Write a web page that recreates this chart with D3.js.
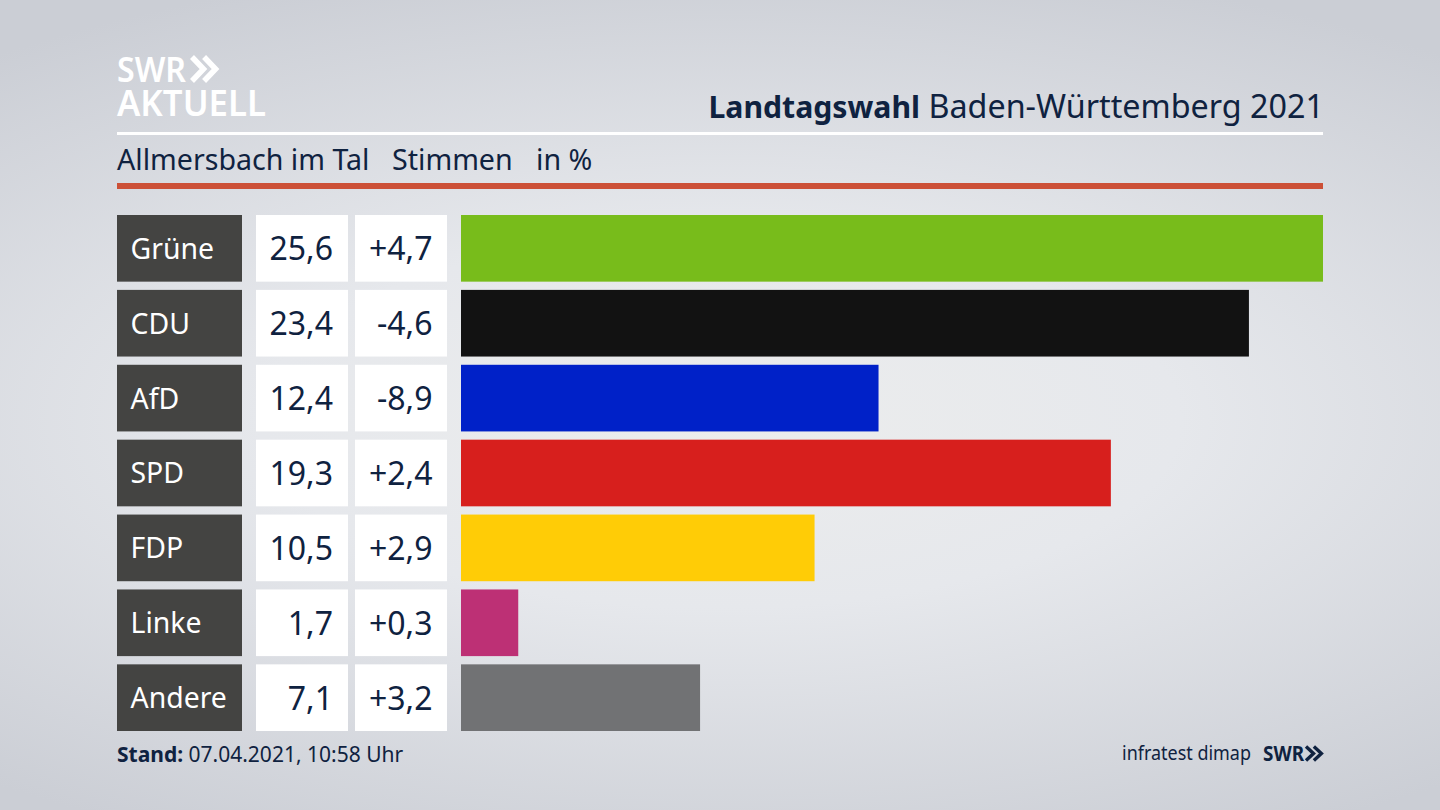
<!DOCTYPE html>
<html>
<head>
<meta charset="utf-8">
<script src="https://cdn.jsdelivr.net/npm/d3@7"></script>
<style>
html,body{margin:0;padding:0;background:#d5d7dd;}
svg{display:block;}
text{font-family:"Noto Sans",sans-serif;}
</style>
</head>
<body>
<svg width="1440" height="810"></svg>
<script>
const parties = ["Grüne","CDU","AfD","SPD","FDP","Linke","Andere"];
const shares = [25.6,23.4,12.4,19.3,10.5,1.7,7.1];
const changes = ["+4,7","-4,6","-8,9","+2,4","+2,9","+0,3","+3,2"];
const partyColors = ["#78bc1b","#121212","#0021c8","#d71f1d","#ffcc06","#bd3075","#717274"];

const svg = d3.select("svg");
const navy = "#0f2240";

// background
const grad = svg.append("defs").append("radialGradient")
  .attr("id","bg").attr("gradientUnits","userSpaceOnUse")
  .attr("cx",0).attr("cy",0).attr("r",1)
  .attr("gradientTransform","translate(720,420) scale(1150,470)");
grad.append("stop").attr("offset","0%").attr("stop-color","#eceded");
grad.append("stop").attr("offset","40%").attr("stop-color","#e6e8ec");
grad.append("stop").attr("offset","100%").attr("stop-color","#cbced5");
svg.append("rect").attr("width",1440).attr("height",810).attr("fill","url(#bg)");

const y = d3.scaleBand().domain(parties).range([215,731]).paddingInner(0.11);
const x = d3.scaleLinear().domain([0,25.6]).range([461,1323]);

// chevrons of the logo
function chevrons(g, cx, cy, h, w, sw, color){
  [0, w*1.05].forEach(dx => {
    g.append("path")
      .attr("d",`M${cx+dx} ${cy-h/2} L${cx+dx+w} ${cy} L${cx+dx} ${cy+h/2}`)
      .attr("fill","none").attr("stroke",color).attr("stroke-width",sw);
  });
}

// logo top left
const logo = svg.append("g");
logo.append("text").attr("x",117).attr("y",82).attr("font-size",33.5).attr("font-weight",600)
  .attr("fill","#fff").attr("textLength",69).attr("lengthAdjust","spacingAndGlyphs").text("SWR");
chevrons(logo,192,69,24,11.5,5.5,"#fff");
logo.append("text").attr("x",117).attr("y",116).attr("font-size",36).attr("font-weight",600)
  .attr("fill","#fff").attr("textLength",149).attr("lengthAdjust","spacingAndGlyphs").text("AKTUELL");

// title, the two weights are sized apart
const title = svg.append("text").attr("x",1324).attr("y",118).attr("text-anchor","end")
  .attr("fill",navy);
title.append("tspan").attr("font-weight",700).attr("font-size",30.2).text("Landtagswahl");
title.append("tspan").attr("font-size",32.3).text(" Baden-Württemberg 2021");

svg.append("rect").attr("x",117).attr("y",132).attr("width",1206).attr("height",3).attr("fill","#fff");

// subtitle
[["Allmersbach im Tal",117],["Stimmen",392],["in %",536]].forEach(d => {
  svg.append("text").attr("x",d[1]).attr("y",170).attr("font-size",28.6).attr("fill",navy).text(d[0]);
});
svg.append("rect").attr("x",117).attr("y",183).attr("width",1206).attr("height",6).attr("fill","#cc5037");

// rows
const rows = svg.selectAll("g.row").data(parties).join("g").attr("class","row")
  .attr("transform",d => `translate(0,${y(d)})`);
const bh = y.bandwidth();

rows.append("rect").attr("x",117).attr("width",125).attr("height",bh).attr("fill","#444442");
rows.append("text").attr("x",130.5).attr("y",bh/2+10.5).attr("font-size",28.4).attr("fill","#fff").text(d => d);

rows.append("rect").attr("x",256).attr("width",92).attr("height",bh).attr("fill","#fff");
rows.append("text").attr("x",333).attr("y",bh/2+12).attr("text-anchor","end")
  .attr("font-size",32).attr("fill",navy).text((d,i) => d3.format(".1f")(shares[i]).replace(".",","));

rows.append("rect").attr("x",355).attr("width",92).attr("height",bh).attr("fill","#fff");
rows.append("text").attr("x",432.5).attr("y",bh/2+12).attr("text-anchor","end")
  .attr("font-size",32).attr("fill",navy).text((d,i) => changes[i]);

rows.append("rect").attr("x",x(0)).attr("width",(d,i) => x(shares[i])-x(0)).attr("height",bh)
  .attr("fill",(d,i) => partyColors[i]);

// footer
const stand = svg.append("text").attr("x",117).attr("y",762).attr("font-size",21).attr("fill",navy);
stand.append("tspan").attr("font-weight",700).text("Stand:");
stand.append("tspan").text(" 07.04.2021, 10:58 Uhr");

svg.append("text").attr("x",1122).attr("y",760).attr("font-size",20).attr("fill",navy)
  .attr("textLength",129).attr("lengthAdjust","spacingAndGlyphs").text("infratest dimap");
svg.append("text").attr("x",1263).attr("y",761).attr("font-size",21).attr("font-weight",700).attr("fill",navy)
  .attr("textLength",41).attr("lengthAdjust","spacingAndGlyphs").text("SWR");
chevrons(svg,1306,753.5,14,7.5,3.4,navy);
</script>
</body>
</html>
